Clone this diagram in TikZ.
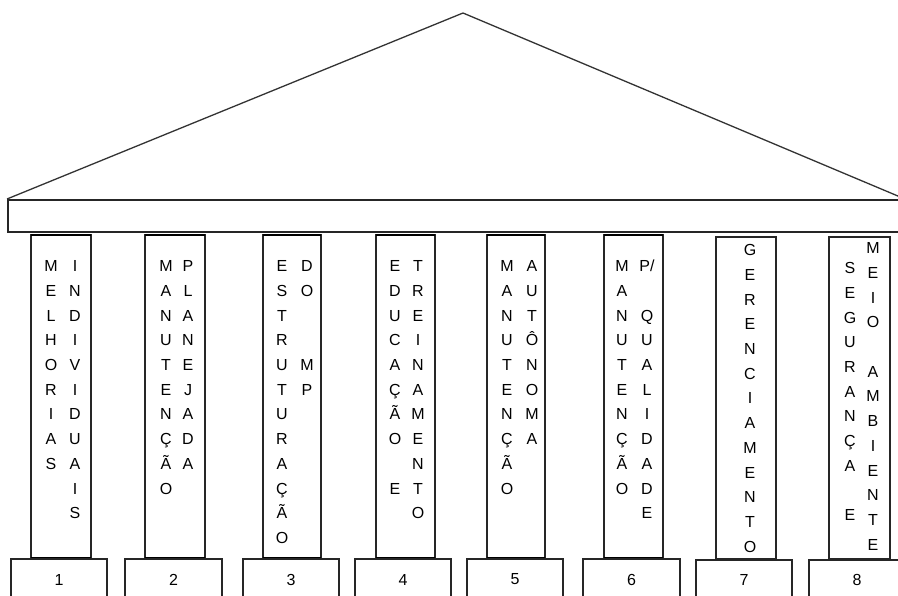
\documentclass[tikz,border=0pt]{standalone}
\usepackage{fontspec}
\setmainfont{Liberation Sans}
\tikzset{
  ln/.style={draw=black!85, line width=1.3pt},
  roofline/.style={draw=black!80, line width=1.3pt},
  thickedge/.style={draw=black, line width=2.2pt},
  colbox/.style={ln, inner sep=0pt, outer sep=0pt},
  basebox/.style={ln, inner sep=0pt, outer sep=0pt, font=\fontsize{16}{18}\selectfont},
  lt/.style={anchor=base, inner sep=0pt, font=\fontsize{16}{18}\selectfont},
}
\newcommand\vtext[4]{\foreach \ch [count=\i from 0] in {#4}{\node[lt] (#3\i) at (#1,{#2+\i*24.7+5.7}) {\ch};}}
\begin{document}
\begin{tikzpicture}[x=1pt,y=-1pt]
\useasboundingbox (0,0) rectangle (898,596);
\clip (0,0) rectangle (898,596);
\fill[white] (0,0) rectangle (898,596);
% roof
\coordinate (apex) at (463,13);
\coordinate (eaveL) at (7,199);
\coordinate (eaveR) at (905,199);
\draw[roofline] (eaveL) -- (apex) -- (eaveR);
% beam
\node[colbox, minimum width=897pt, minimum height=32pt] (beam) at (456.5,216) {};
% columns
\node[colbox, minimum width=60pt, minimum height=323pt] (c1) at (61,396.5) {};
\node[colbox, minimum width=60pt, minimum height=323pt] (c2) at (175,396.5) {};
\node[colbox, minimum width=58pt, minimum height=323pt] (c3) at (292,396.5) {};
\node[colbox, minimum width=59pt, minimum height=323pt] (c4) at (405.5,396.5) {};
\node[colbox, minimum width=58pt, minimum height=323pt] (c5) at (516,396.5) {};
\node[colbox, minimum width=59pt, minimum height=323pt] (c6) at (633.5,396.5) {};
\node[colbox, minimum width=60pt, minimum height=322pt] (c7) at (746,398) {};
\node[colbox, minimum width=61pt, minimum height=322pt] (c8) at (859.5,398) {};
\foreach \c in {c1,c2,c3,c4,c5,c6}{
  \draw[thickedge] (\c.north west) -- (\c.north east);
  \draw[thickedge] (\c.south west) -- (\c.south east);
}
% bases
\node[basebox, minimum width=96pt, minimum height=41pt] (b1) at (59,579.5) {1};
\node[basebox, minimum width=97pt, minimum height=41pt] (b2) at (173.5,579.5) {2};
\node[basebox, minimum width=96pt, minimum height=41pt] (b3) at (291,579.5) {3};
\node[basebox, minimum width=96pt, minimum height=41pt] (b4) at (403,579.5) {4};
\node[basebox, minimum width=96pt, minimum height=41pt] (b5) at (515,579.5) {5};
\node[basebox, minimum width=97pt, minimum height=41pt] (b6) at (631.5,579.5) {6};
\node[basebox, minimum width=96pt, minimum height=40pt] (b7) at (744,580) {7};
\node[basebox, minimum width=96pt, minimum height=40pt] (b8) at (857,580) {8};
% texts
\vtext{51}{266}{pAl}{M,E,L,H,O,R,I,A,S}
\vtext{75}{266}{pAr}{I,N,D,I,V,I,D,U,A,I,S}
\vtext{166}{266}{pBl}{M,A,N,U,T,E,N,Ç,Ã,O}
\vtext{188}{266}{pBr}{P,L,A,N,E,J,A,D,A}
\vtext{282}{266}{pCl}{E,S,T,R,U,T,U,R,A,Ç,Ã,O}
\vtext{307}{266}{pCr}{D,O,{},{},M,P}
\vtext{395}{266}{pDl}{E,D,U,C,A,Ç,Ã,O,{},E}
\vtext{418}{266}{pDr}{T,R,E,I,N,A,M,E,N,T,O}
\vtext{507}{266}{pEl}{M,A,N,U,T,E,N,Ç,Ã,O}
\vtext{532}{266}{pEr}{A,U,T,Ô,N,O,M,A}
\vtext{622}{266}{pFl}{M,A,N,U,T,E,N,Ç,Ã,O}
\vtext{647}{266}{pFr}{P/,{},Q,U,A,L,I,D,A,D,E}
\vtext{750}{250}{pG}{G,E,R,E,N,C,I,A,M,E,N,T,O}
\vtext{850}{268}{pHl}{S,E,G,U,R,A,N,Ç,A,{},E}
\vtext{873}{248}{pHr}{M,E,I,O,{},A,M,B,I,E,N,T,E}
\end{tikzpicture}
\end{document}
